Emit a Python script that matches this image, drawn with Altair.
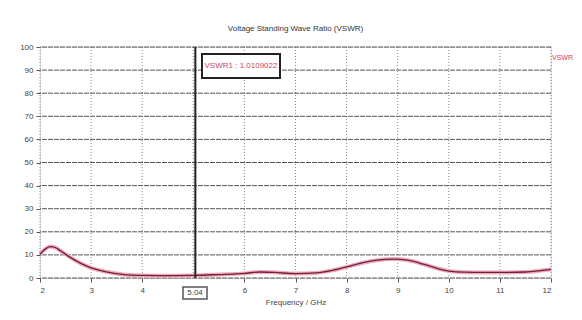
import altair as alt
import pandas as pd

freq = [2.0, 2.1, 2.2, 2.3, 2.4, 2.6, 2.8, 3.0, 3.3, 3.6, 4.0, 4.5, 5.0, 5.5, 6.0, 6.3, 6.6,
        7.0, 7.4, 7.7, 8.0, 8.3, 8.6, 8.9, 9.2, 9.5, 9.8, 10.0, 10.3, 10.7, 11.0, 11.5, 11.8, 12.0]
vswr = [10.3, 12.5, 13.6, 13.2, 11.8, 8.8, 6.3, 4.4, 2.7, 1.6, 1.1, 1.0, 1.1, 1.5, 2.0, 2.6, 2.4,
        1.9, 2.2, 3.2, 4.8, 6.5, 7.7, 8.2, 7.7, 6.0, 4.0, 3.0, 2.5, 2.4, 2.4, 2.6, 3.2, 3.7]
x_grid = [2, 3, 4, 5, 6, 7, 8, 9, 10, 11, 12]
x_labels = [2, 3, 4, 6, 7, 8, 9, 10, 11, 12]
y_ticks = [0, 10, 20, 30, 40, 50, 60, 70, 80, 90, 100]
marker_x = [5.04]
marker_text = ["VSWR1 : 1.0109022"]
series_name = ["VSWR"]

FONT = "Liberation Sans"
df = pd.DataFrame({"f": freq, "v": vswr})
xs = alt.Scale(domain=[2, 12], nice=False)
ys = alt.Scale(domain=[0, 100], nice=False)

y_axis = alt.Axis(values=y_ticks, title=None, grid=False, domain=False, tickSize=4,
                  tickColor="#555", labelFont=FONT, labelFontSize=8, labelColor="#444",
                  labelPadding=3, labelOverlap=False, format="d")
x_axis = alt.Axis(values=x_labels, title="Frequency / GHz", grid=False, domain=False,
                  tickSize=4, tickColor="#555", labelFont=FONT, labelFontSize=8,
                  labelColor="#444", labelPadding=4, format="d", labelOverlap=False,
                  titleFont=FONT, titleFontSize=8, titleFontWeight="normal",
                  titleColor="#444", titlePadding=4)

hgrid = alt.Chart(pd.DataFrame({"y": y_ticks})).mark_rule(
    color="#555", strokeWidth=1, strokeDash=[5, 1]
).encode(y=alt.Y("y:Q", scale=ys, axis=y_axis))

vgrid = alt.Chart(pd.DataFrame({"x": x_grid})).mark_rule(
    color="#888", strokeWidth=1, strokeDash=[1, 2]
).encode(x=alt.X("x:Q", scale=xs, axis=x_axis))

halo = alt.Chart(df).mark_line(color="#f2a9bb", strokeWidth=4, interpolate="monotone").encode(
    x=alt.X("f:Q", scale=xs, axis=x_axis), y=alt.Y("v:Q", scale=ys, axis=y_axis))
line = alt.Chart(df).mark_line(color="#6e2236", strokeWidth=1.3, interpolate="monotone").encode(
    x=alt.X("f:Q", scale=xs, axis=x_axis), y=alt.Y("v:Q", scale=ys, axis=y_axis))

mdf = pd.DataFrame({"x": marker_x, "t": marker_text, "lab": ["5.04"]})
mrule = alt.Chart(mdf).mark_rule(color="#222", strokeWidth=2).encode(
    x=alt.X("x:Q", scale=xs, axis=x_axis))

mbox = alt.Chart(mdf).mark_rect(fill="white", stroke="#222", strokeWidth=2).encode(
    x=alt.value(162), x2=alt.value(240), y=alt.value(7), y2=alt.value(31))
mtext = alt.Chart(mdf).mark_text(font=FONT, fontSize=8, color="#d0405e", align="center",
                                 baseline="middle").encode(
    x=alt.value(201), y=alt.value(19), text="t:N")

lbox = alt.Chart(mdf).mark_rect(fill="white", stroke="#555", strokeWidth=1.5).encode(
    x=alt.value(143), x2=alt.value(167), y=alt.value(240), y2=alt.value(252))
ltext = alt.Chart(mdf).mark_text(font=FONT, fontSize=8, color="#444", align="center",
                                 baseline="middle").encode(
    x=alt.value(155), y=alt.value(246), text="lab:N")

leg = alt.Chart(pd.DataFrame({"t": series_name})).mark_text(
    font=FONT, fontSize=7, color="#d0405e", align="left", baseline="middle").encode(
    x=alt.value(512), y=alt.value(11), text="t:N")

chart = alt.layer(vgrid, hgrid, halo, line, mrule, mbox, mtext, lbox, ltext, leg).properties(
    width=511, height=231,
    title=alt.TitleParams("Voltage Standing Wave Ratio (VSWR)", font=FONT, fontSize=8,
                          fontWeight="normal", color="#333", offset=10),
    autosize=alt.AutoSizeParams(type="none"),
    padding={"left": 32, "top": 39, "right": 23, "bottom": 30},
).configure_view(stroke="#444", strokeWidth=1.5).configure(background="white")

chart.save("out.html", embed_options={"renderer": "svg", "actions": False})
